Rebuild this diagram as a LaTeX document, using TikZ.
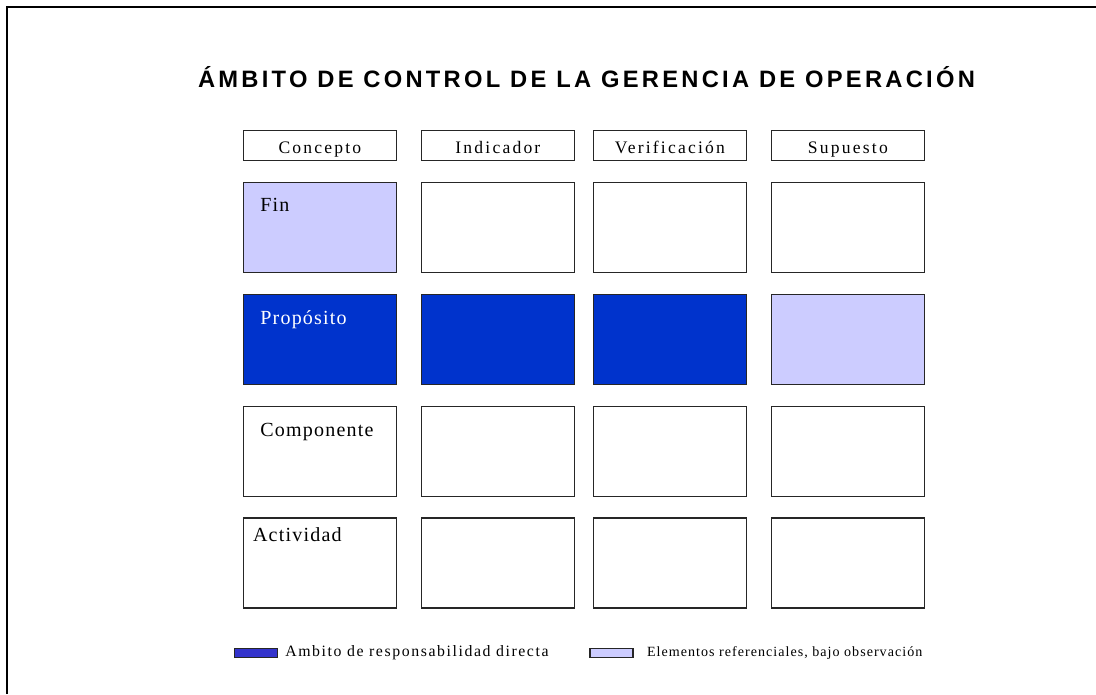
\documentclass[tikz,border=0pt]{standalone}
\usepackage{fontspec}
\setmainfont{Liberation Serif}
\newfontfamily\titulofont[LetterSpace=13.8]{Liberation Sans}
\newfontfamily\encfont[LetterSpace=12.5]{Liberation Serif}
\newfontfamily\etifont[LetterSpace=6]{Liberation Serif}
\newfontfamily\leyfont[LetterSpace=10]{Liberation Serif}
\newfontfamily\leyfontb[LetterSpace=7.3]{Liberation Serif}
\usetikzlibrary{positioning}

\begin{document}
\begin{tikzpicture}[x=0.02cm,y=-0.02cm,
		celda/.style={draw=black!85,line width=0.8pt,anchor=north west,inner sep=0pt,minimum width=3.06cm,minimum height=1.8cm},
		encabezado/.style={celda,minimum height=0.6cm,text height=0.36cm,text depth=0.04cm,font=\encfont\fontsize{10}{12}\selectfont},
		etiqueta/.style={anchor=base west,inner sep=0pt,font=\etifont\fontsize{11.4}{13}\selectfont},
		muestra/.style={draw=black!85,line width=0.8pt,anchor=north west,inner sep=0pt,minimum width=0.86cm,minimum height=0.18cm},
		leyenda/.style={anchor=base west,inner sep=0pt}]
		\definecolor{azul}{HTML}{0033CC}
		\definecolor{azul2}{HTML}{3333CC}
		\definecolor{lila}{HTML}{CCCCFF}
		\useasboundingbox (0,0) rectangle (1096,694);
		\draw[line width=1.1pt] (7,694) -- (7,7) -- (1096,7);
		\node[anchor=base,inner sep=0pt,font=\titulofont\bfseries\fontsize{13.5}{16}\selectfont] (titulo) at (586.5,87) {ÁMBITO DE CONTROL DE LA GERENCIA DE OPERACIÓN};
		\foreach \x/\n/\t in {242.7/1/Concepto, 420.7/2/Indicador, 592.7/3/Verificación, 770.7/4/Supuesto}{
				\node[encabezado] (enc-\n) at (\x,129.7) {\t};
			}
		\foreach \f/\y/\colores in {1/182/{lila,white,white,white}, 2/294/{azul,azul,azul,lila}, 3/405.7/{white,white,white,white}, 4/517.3/{white,white,white,white}}{
				\foreach \c [count=\n] in \colores{
						\pgfmathsetmacro\xc{{242.7,420.7,592.7,770.7}[\n-1]}
						\node[celda,fill=\c] (celda-\f-\n) at (\xc,\y) {};
					}
			}
		\node[etiqueta] (fin) at ([shift={(17.3,29.7)}]celda-1-1.north west) {Fin};
		\node[etiqueta,text=white] (proposito) at ([shift={(17.3,30)}]celda-2-1.north west) {Propósito};
		\node[etiqueta] (componente) at ([shift={(17.3,30.3)}]celda-3-1.north west) {Componente};
		\node[etiqueta] (actividad) at ([shift={(10,24.4)}]celda-4-1.north west) {Actividad};
		\node[muestra,fill=azul2] (muestra-azul) at (234,648) {};
		\node[leyenda,font=\leyfont\fontsize{9}{11}\selectfont] (ley-azul) at (285,656) {Ambito de responsabilidad directa};
		\node[muestra,fill=lila] (muestra-lila) at (589.3,648) {};
		\node[leyenda,font=\leyfontb\fontsize{8}{10}\selectfont] (ley-lila) at (646.7,656) {Elementos referenciales, bajo observación};
	\end{tikzpicture}
\end{document}
